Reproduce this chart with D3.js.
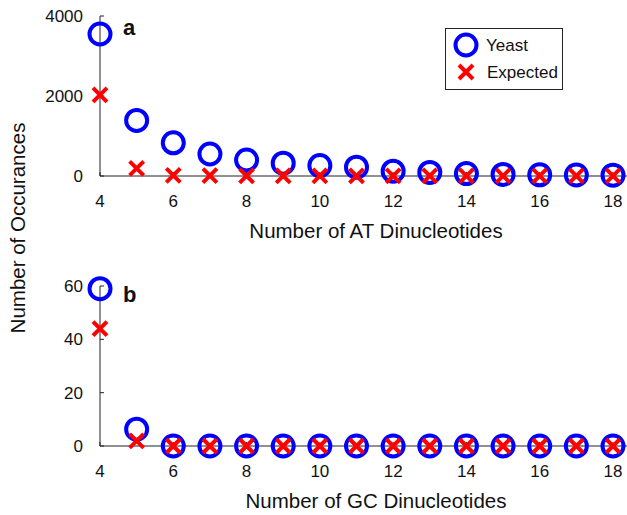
<!DOCTYPE html>
<html lang="en">
<head>
<meta charset="UTF-8">
<title>Dinucleotide occurrences</title>
<style>
  body, html { margin: 0; padding: 0; background: #fff; }
  svg text { font-family: "Liberation Sans", Arial, Helvetica, sans-serif; fill: #111; }
</style>
<script src="https://d3js.org/d3.v7.min.js"></script>
</head>
<body>
<div id="chart"></div>
<script>
  // counts of runs, 4..18 repeats
  const repeats = [4, 5, 6, 7, 8, 9, 10, 11, 12, 13, 14, 15, 16, 17, 18];
  const atYeast = [3550, 1390, 830, 550, 400, 320, 260, 220, 120, 90, 60, 40, 30, 25, 20];
  const atExpected = [2030, 190, 15, 10, 5, 5, 5, 3, 2, 2, 1, 1, 1, 1, 1];
  const gcYeast = [59, 6.3, 0, 0, 0, 0, 0, 0, 0, 0, 0, 0, 0, 0, 0];
  const gcExpected = [44, 1.9, 0, 0, 0, 0, 0, 0, 0, 0, 0, 0, 0, 0, 0];
  const xTicks = [4, 6, 8, 10, 12, 14, 16, 18];
  const atYTicks = [0, 2000, 4000];
  const gcYTicks = [0, 20, 40, 60];

  const W = 627, H = 515;
  const svg = d3.select('#chart').append('svg').attr('width', W).attr('height', H);

  const x = d3.scaleLinear().domain([4, 18]).range([100, 613]);

  function panel(opts) {
    const y = d3.scaleLinear().domain(opts.yDomain).range(opts.yRange);
    const g = svg.append('g');

    // x axis line runs to the right edge
    g.append('line')
      .attr('x1', x(4)).attr('x2', W)
      .attr('y1', y(0)).attr('y2', y(0))
      .attr('stroke', '#222').attr('stroke-width', 1);
    g.append('line')
      .attr('x1', x(4)).attr('x2', x(4))
      .attr('y1', y(0)).attr('y2', y(opts.yDomain[1]))
      .attr('stroke', '#222').attr('stroke-width', 1);

    // inward ticks
    g.selectAll('.yt').data(opts.yTicks).enter().append('line')
      .attr('x1', x(4)).attr('x2', x(4) + 4)
      .attr('y1', d => y(d)).attr('y2', d => y(d))
      .attr('stroke', '#222');
    g.selectAll('.xt').data(xTicks).enter().append('line')
      .attr('x1', d => x(d)).attr('x2', d => x(d))
      .attr('y1', y(0)).attr('y2', y(0) - 4)
      .attr('stroke', '#222');

    g.selectAll('.yl').data(opts.yTicks).enter().append('text')
      .attr('x', 83).attr('y', d => y(d)).attr('dy', '0.36em')
      .attr('text-anchor', 'end').attr('font-size', 17)
      .text(d => d);
    g.selectAll('.xl').data(xTicks).enter().append('text')
      .attr('x', d => x(d)).attr('y', y(0) + 31)
      .attr('text-anchor', 'middle').attr('font-size', 17)
      .text(d => d);

    g.append('text')
      .attr('x', 376).attr('y', y(0) + 62)
      .attr('text-anchor', 'middle').attr('font-size', 20.5)
      .text(opts.xTitle);

    g.append('text')
      .attr('x', 123).attr('y', opts.letterY)
      .attr('font-size', 22).attr('font-weight', 'bold')
      .text(opts.letter);

    const yeast = repeats.map((r, i) => [r, opts.yeast[i]]);
    const expected = repeats.map((r, i) => [r, opts.expected[i]]);

    g.selectAll('.yeast').data(yeast).enter().append('circle')
      .attr('cx', d => x(d[0])).attr('cy', d => y(d[1])).attr('r', 10.5)
      .attr('fill', 'none').attr('stroke', '#0000ff').attr('stroke-width', 4);

    const s = 7;
    g.selectAll('.exp').data(expected).enter().append('path')
      .attr('d', d => {
        const cx = x(d[0]), cy = y(d[1]);
        return `M${cx - s},${cy - s}L${cx + s},${cy + s}M${cx - s},${cy + s}L${cx + s},${cy - s}`;
      })
      .attr('stroke', '#ff0000').attr('stroke-width', 4).attr('fill', 'none');
  }

  panel({
    yDomain: [0, 4000], yRange: [176, 16], yTicks: atYTicks,
    yeast: atYeast, expected: atExpected,
    xTitle: 'Number of AT Dinucleotides', letter: 'a', letterY: 35
  });
  panel({
    yDomain: [0, 60], yRange: [446, 286], yTicks: gcYTicks,
    yeast: gcYeast, expected: gcExpected,
    xTitle: 'Number of GC Dinucleotides', letter: 'b', letterY: 302
  });

  svg.append('text')
    .attr('transform', 'translate(25,228) rotate(-90)')
    .attr('text-anchor', 'middle').attr('font-size', 20.5)
    .text('Number of Occurances');

  // legend
  const lg = svg.append('g');
  lg.append('rect')
    .attr('x', 445.5).attr('y', 28.5).attr('width', 117).attr('height', 61)
    .attr('fill', '#fff').attr('stroke', '#222');
  lg.append('circle').attr('cx', 466).attr('cy', 45).attr('r', 10.5)
    .attr('fill', 'none').attr('stroke', '#0000ff').attr('stroke-width', 4);
  lg.append('path')
    .attr('d', 'M459,65L473,79M459,79L473,65')
    .attr('stroke', '#ff0000').attr('stroke-width', 4);
  lg.append('text').attr('x', 486).attr('y', 45).attr('dy', '0.36em')
    .attr('font-size', 17).text('Yeast');
  lg.append('text').attr('x', 487).attr('y', 72).attr('dy', '0.36em')
    .attr('font-size', 17).text('Expected');
</script>
</body>
</html>
